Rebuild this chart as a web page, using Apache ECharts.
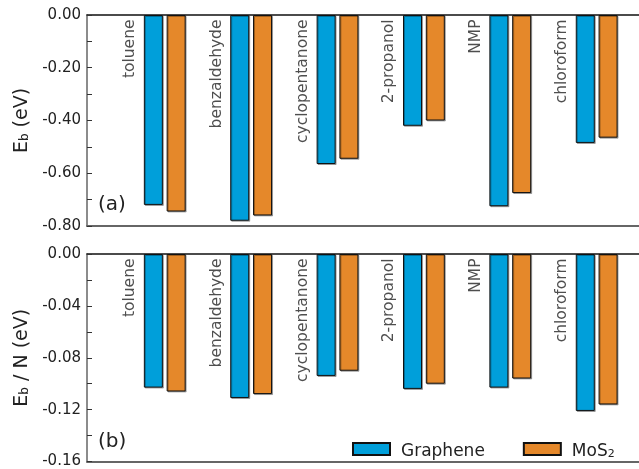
<!DOCTYPE html>
<html><head><meta charset="utf-8">
<script src="https://cdn.jsdelivr.net/npm/echarts@6/dist/echarts.min.js"></script>
<style>html,body{margin:0;padding:0;background:#fff}#c{width:639px;height:469px}</style>
</head><body><div id="c"></div>
<script>
const solvents = ['toluene', 'benzaldehyde', 'cyclopentanone', '2-propanol', 'NMP', 'chloroform'];
const seriesNames = ['Graphene', 'MoS2'];
const ebGraphene = [-0.720, -0.780, -0.565, -0.420, -0.725, -0.485];
const ebMoS2 = [-0.745, -0.760, -0.545, -0.400, -0.675, -0.465];
const ebNGraphene = [-0.103, -0.111, -0.094, -0.104, -0.103, -0.121];
const ebNMoS2 = [-0.106, -0.108, -0.090, -0.100, -0.096, -0.116];
const ticksA = { min: -0.8, max: 0, interval: 0.2 };
const ticksB = { min: -0.16, max: 0, interval: 0.04 };
const panelLabels = ['(a)', '(b)'];

const FONT = 'DejaVu Sans';
const TXT = '#222';
const colors = ['#009FDA', '#E5882A'];

const chart = echarts.init(document.getElementById('c'), null, { renderer: 'canvas' });

const xBase = {
  type: 'value', min: 0.1, max: 6.49,
  axisLabel: { show: false }, axisTick: { show: false }, splitLine: { show: false }
};
function xAxes(gi) {
  return [
    Object.assign({}, xBase, { gridIndex: gi, position: 'top',
      axisLine: { show: true, onZero: false, lineStyle: { color: '#111', width: 1.5 } } }),
    Object.assign({}, xBase, { gridIndex: gi, position: 'bottom',
      axisLine: { show: true, onZero: false, lineStyle: { color: '#666', width: 2 } } })
  ];
}
const nameRich = {
  n: { fontSize: 19, fontFamily: FONT, color: TXT, lineHeight: 24, verticalAlign: 'bottom' },
  s: { fontSize: 12, fontFamily: FONT, color: TXT, lineHeight: 10, verticalAlign: 'bottom' }
};
function yAxis(gi, t, name) {
  return {
    gridIndex: gi, type: 'value', min: t.min, max: t.max, interval: t.interval,
    position: 'left',
    axisLine: { show: true, lineStyle: { color: '#666', width: 1.5 } },
    axisTick: { show: true, inside: true, length: 5, lineStyle: { color: '#333' } },
    minorTick: { show: true, splitNumber: 2, length: 5, lineStyle: { color: '#333' } },
    splitLine: { show: false },
    axisLabel: { formatter: v => v.toFixed(2), fontSize: 15, fontFamily: FONT, color: TXT, margin: 6 },
    name: name, nameLocation: 'middle', nameGap: 53,
    nameTextStyle: { rich: nameRich }
  };
}
function bars(gi, name, vals, ci) {
  return {
    type: 'bar', name: name, xAxisIndex: gi * 2, yAxisIndex: gi,
    data: vals.map((v, i) => [i + 1, v]),
    barWidth: 19, barGap: '20%',
    itemStyle: { color: colors[ci], borderColor: '#111', borderWidth: 1,
      shadowColor: 'rgba(0,0,0,0.3)', shadowOffsetX: 1, shadowOffsetY: 1, shadowBlur: 0 },
    emphasis: { disabled: true }
  };
}
function catLabels(gi) {
  return {
    type: 'scatter', xAxisIndex: gi * 2, yAxisIndex: gi, silent: true,
    symbolSize: 1, itemStyle: { color: 'rgba(0,0,0,0)' },
    data: solvents.map((s, i) => ({ value: [i + 1, 0], name: s })),
    label: { show: true, formatter: p => p.name, position: [-34, 5], rotate: 90,
      align: 'right', verticalAlign: 'middle', fontSize: 15.5, fontFamily: FONT, color: TXT },
    z: 5
  };
}

const option = {
  animation: false,
  backgroundColor: '#fff',
  grid: [
    { left: 87, right: 0, top: 15, height: 211 },
    { left: 87, right: 0, top: 254, height: 209 }
  ],
  xAxis: xAxes(0).concat(xAxes(1)),
  yAxis: [
    yAxis(0, ticksA, '{n|E}{s|b}{n| (eV)}'),
    yAxis(1, ticksB, '{n|E}{s|b}{n| / N (eV)}')
  ],
  legend: {
    data: seriesNames, left: 347, top: 437, itemWidth: 37, itemHeight: 12, itemGap: 38,
    icon: 'rect', selectedMode: false,
    formatter: n => n === 'MoS2' ? '{n|MoS}{s|2}' : '{n|' + n + '}',
    textStyle: { padding: [0, 0, 0, 6], rich: {
      n: { fontSize: 17, fontFamily: FONT, color: TXT, lineHeight: 22, verticalAlign: 'bottom' },
      s: { fontSize: 11, fontFamily: FONT, color: TXT, lineHeight: 10, verticalAlign: 'bottom' }
    } }
  },
  graphic: [
    { type: 'text', x: 98, y: 205, style: { text: panelLabels[0], fontSize: 20, fontFamily: FONT, fill: TXT, verticalAlign: 'middle' } },
    { type: 'text', x: 98, y: 442, style: { text: panelLabels[1], fontSize: 20, fontFamily: FONT, fill: TXT, verticalAlign: 'middle' } }
  ],
  series: [
    bars(0, seriesNames[0], ebGraphene, 0),
    bars(0, seriesNames[1], ebMoS2, 1),
    bars(1, seriesNames[0], ebNGraphene, 0),
    bars(1, seriesNames[1], ebNMoS2, 1),
    catLabels(0),
    catLabels(1)
  ]
};
chart.setOption(option);
</script>
</body></html>
